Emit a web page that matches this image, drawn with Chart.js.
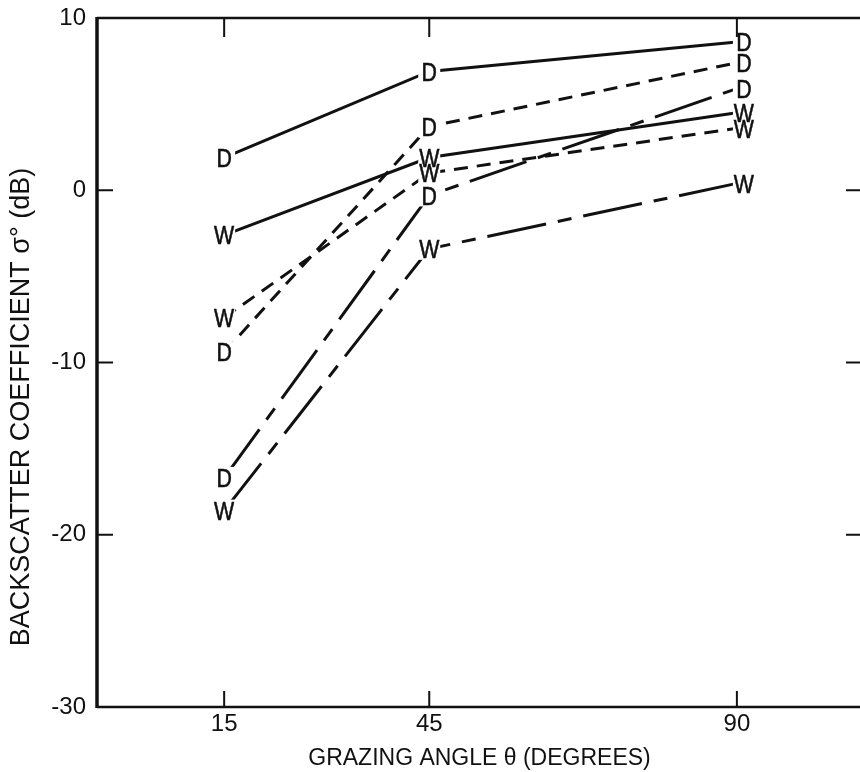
<!DOCTYPE html>
<html>
<head>
<meta charset="utf-8">
<script src="https://cdn.jsdelivr.net/npm/chart.js@4.4.1/dist/chart.umd.min.js"></script>
<style>
  html, body { margin: 0; padding: 0; background: #fff; overflow: hidden; }
  #wrap { position: relative; width: 880px; height: 772px; }
</style>
</head>
<body>
<div id="wrap"><canvas id="c" width="880" height="772"></canvas></div>
<script>
// Grazing angles (degrees) and backscatter coefficient (dB) per surface condition
const grazingAngles = [15, 45, 90];
const solidDry      = [1.9, 6.9, 8.6];
const solidWet      = [-2.6, 1.9, 4.5];
const shortDashWet  = [-7.4, 1.0, 3.6];
const shortDashDry  = [-9.4, 3.7, 7.4];
const longDashDry   = [-16.7, -0.3, 5.9];
const longDashWet   = [-18.6, -3.4, 0.4];
const yTicks = [10, 0, -10, -20, -30];

const FONT = '"Liberation Sans", Arial, sans-serif';
const INK = '#111';

const SOLID = [];
const SHORT = [14, 9];
const CHAIN = [60, 12, 14, 12];

function series(letter, values, dash) {
  return {
    label: letter,
    data: grazingAngles.map((a, i) => ({ x: a, y: values[i] })),
    borderColor: INK,
    borderWidth: 3,
    borderDash: dash,
    borderCapStyle: 'butt',
    pointRadius: 0,
    pointHoverRadius: 0,
    tension: 0,
    fill: false
  };
}

// Letters D / W sit on each data point; the line stops short of the letter
const letterMarks = {
  id: 'letterMarks',
  afterDatasetsDraw(chart) {
    const ctx = chart.ctx;
    const boxes = [];
    chart.data.datasets.forEach((ds, i) => {
      chart.getDatasetMeta(i).data.forEach((pt, j) => {
        const nudge = j === grazingAngles.length - 1 ? 7 : 0;
        boxes.push({ x: pt.x + nudge, y: pt.y, t: ds.label });
      });
    });
    ctx.save();
    ctx.fillStyle = '#fff';
    boxes.forEach(b => ctx.fillRect(b.x - 11, b.y - 11, 22, 22));
    ctx.fillStyle = INK;
    ctx.strokeStyle = INK;
    ctx.lineWidth = 0.6;
    ctx.font = '26px ' + FONT;
    ctx.textAlign = 'center';
    ctx.textBaseline = 'alphabetic';
    boxes.forEach(b => {
      ctx.save();
      ctx.translate(b.x, b.y + 9.3);
      ctx.scale(0.82, 1);
      ctx.fillText(b.t, 0, 0);
      ctx.strokeText(b.t, 0, 0);
      ctx.restore();
    });
    ctx.restore();
  }
};

// Boxed frame with inward tick marks, plus the vertical axis title
const frame = {
  id: 'frame',
  afterDraw(chart) {
    const ctx = chart.ctx;
    const a = chart.chartArea;
    const xs = chart.scales.x, ys = chart.scales.y;
    ctx.save();
    ctx.strokeStyle = INK;
    ctx.lineCap = 'butt';
    ctx.lineWidth = 2.5;
    ctx.beginPath();
    ctx.moveTo(a.left, a.top); ctx.lineTo(a.right, a.top);
    ctx.moveTo(a.left, a.bottom); ctx.lineTo(a.right, a.bottom);
    ctx.stroke();
    ctx.lineWidth = 3.5;
    ctx.beginPath();
    ctx.moveTo(a.left, a.top - 1); ctx.lineTo(a.left, a.bottom + 1);
    ctx.stroke();
    ctx.lineWidth = 2;
    ctx.beginPath();
    grazingAngles.forEach(v => {
      const px = xs.getPixelForValue(v);
      ctx.moveTo(px, a.bottom); ctx.lineTo(px, a.bottom - 16);
      ctx.moveTo(px, a.top); ctx.lineTo(px, a.top + 19);
    });
    yTicks.forEach(v => {
      const py = ys.getPixelForValue(v);
      if (v === ys.max || v === ys.min) return;
      ctx.moveTo(a.left, py); ctx.lineTo(a.left + 16, py);
      ctx.moveTo(a.right, py); ctx.lineTo(a.right - 16, py);
    });
    ctx.stroke();

    ctx.fillStyle = INK;
    ctx.font = '27px ' + FONT;
    ctx.textAlign = 'center';
    ctx.textBaseline = 'middle';
    ctx.translate(22, 407);
    ctx.rotate(-Math.PI / 2);
    ctx.fillText('BACKSCATTER COEFFICIENT σ° (dB)', 0, 0);
    ctx.restore();
  }
};

// Tick labels may overhang the plot box, so the scales reserve no extra edge padding
function noEdgePadding(s) {
  s.paddingTop = 0; s.paddingBottom = 0;
  s.paddingLeft = 0; s.paddingRight = 0;
}

new Chart(document.getElementById('c'), {
  type: 'line',
  data: {
    datasets: [
      series('D', solidDry, SOLID),
      series('W', solidWet, SOLID),
      series('W', shortDashWet, SHORT),
      series('D', shortDashDry, SHORT),
      series('D', longDashDry, CHAIN),
      series('W', longDashWet, CHAIN)
    ]
  },
  options: {
    responsive: false,
    animation: false,
    devicePixelRatio: 1,
    layout: { padding: { top: 18, right: 18, bottom: 0, left: 0 } },
    plugins: { legend: { display: false }, tooltip: { enabled: false } },
    scales: {
      x: {
        type: 'linear',
        min: -3.6,
        max: 108.3,
        afterBuildTicks: s => { s.ticks = grazingAngles.map(v => ({ value: v })); },
        afterFit: s => { s.height = 65; noEdgePadding(s); },
        grid: { display: false, drawTicks: false },
        border: { display: false },
        ticks: {
          color: INK, padding: 3, autoSkip: false, maxRotation: 0,
          font: { family: FONT, size: 24 },
          callback: v => String(v)
        },
        title: {
          display: true,
          text: 'GRAZING ANGLE θ (DEGREES)',
          color: INK,
          font: { family: FONT, size: 23 },
          padding: { top: 0, bottom: 0 }
        }
      },
      y: {
        type: 'linear',
        min: -30,
        max: 10,
        afterBuildTicks: s => { s.ticks = yTicks.map(v => ({ value: v })); },
        afterFit: s => { s.width = 97; noEdgePadding(s); },
        grid: { display: false, drawTicks: false },
        border: { display: false },
        ticks: {
          color: INK, padding: 11,
          font: { family: FONT, size: 24 },
          callback: v => String(v)
        }
      }
    }
  },
  plugins: [letterMarks, frame]
});
</script>
</body>
</html>
